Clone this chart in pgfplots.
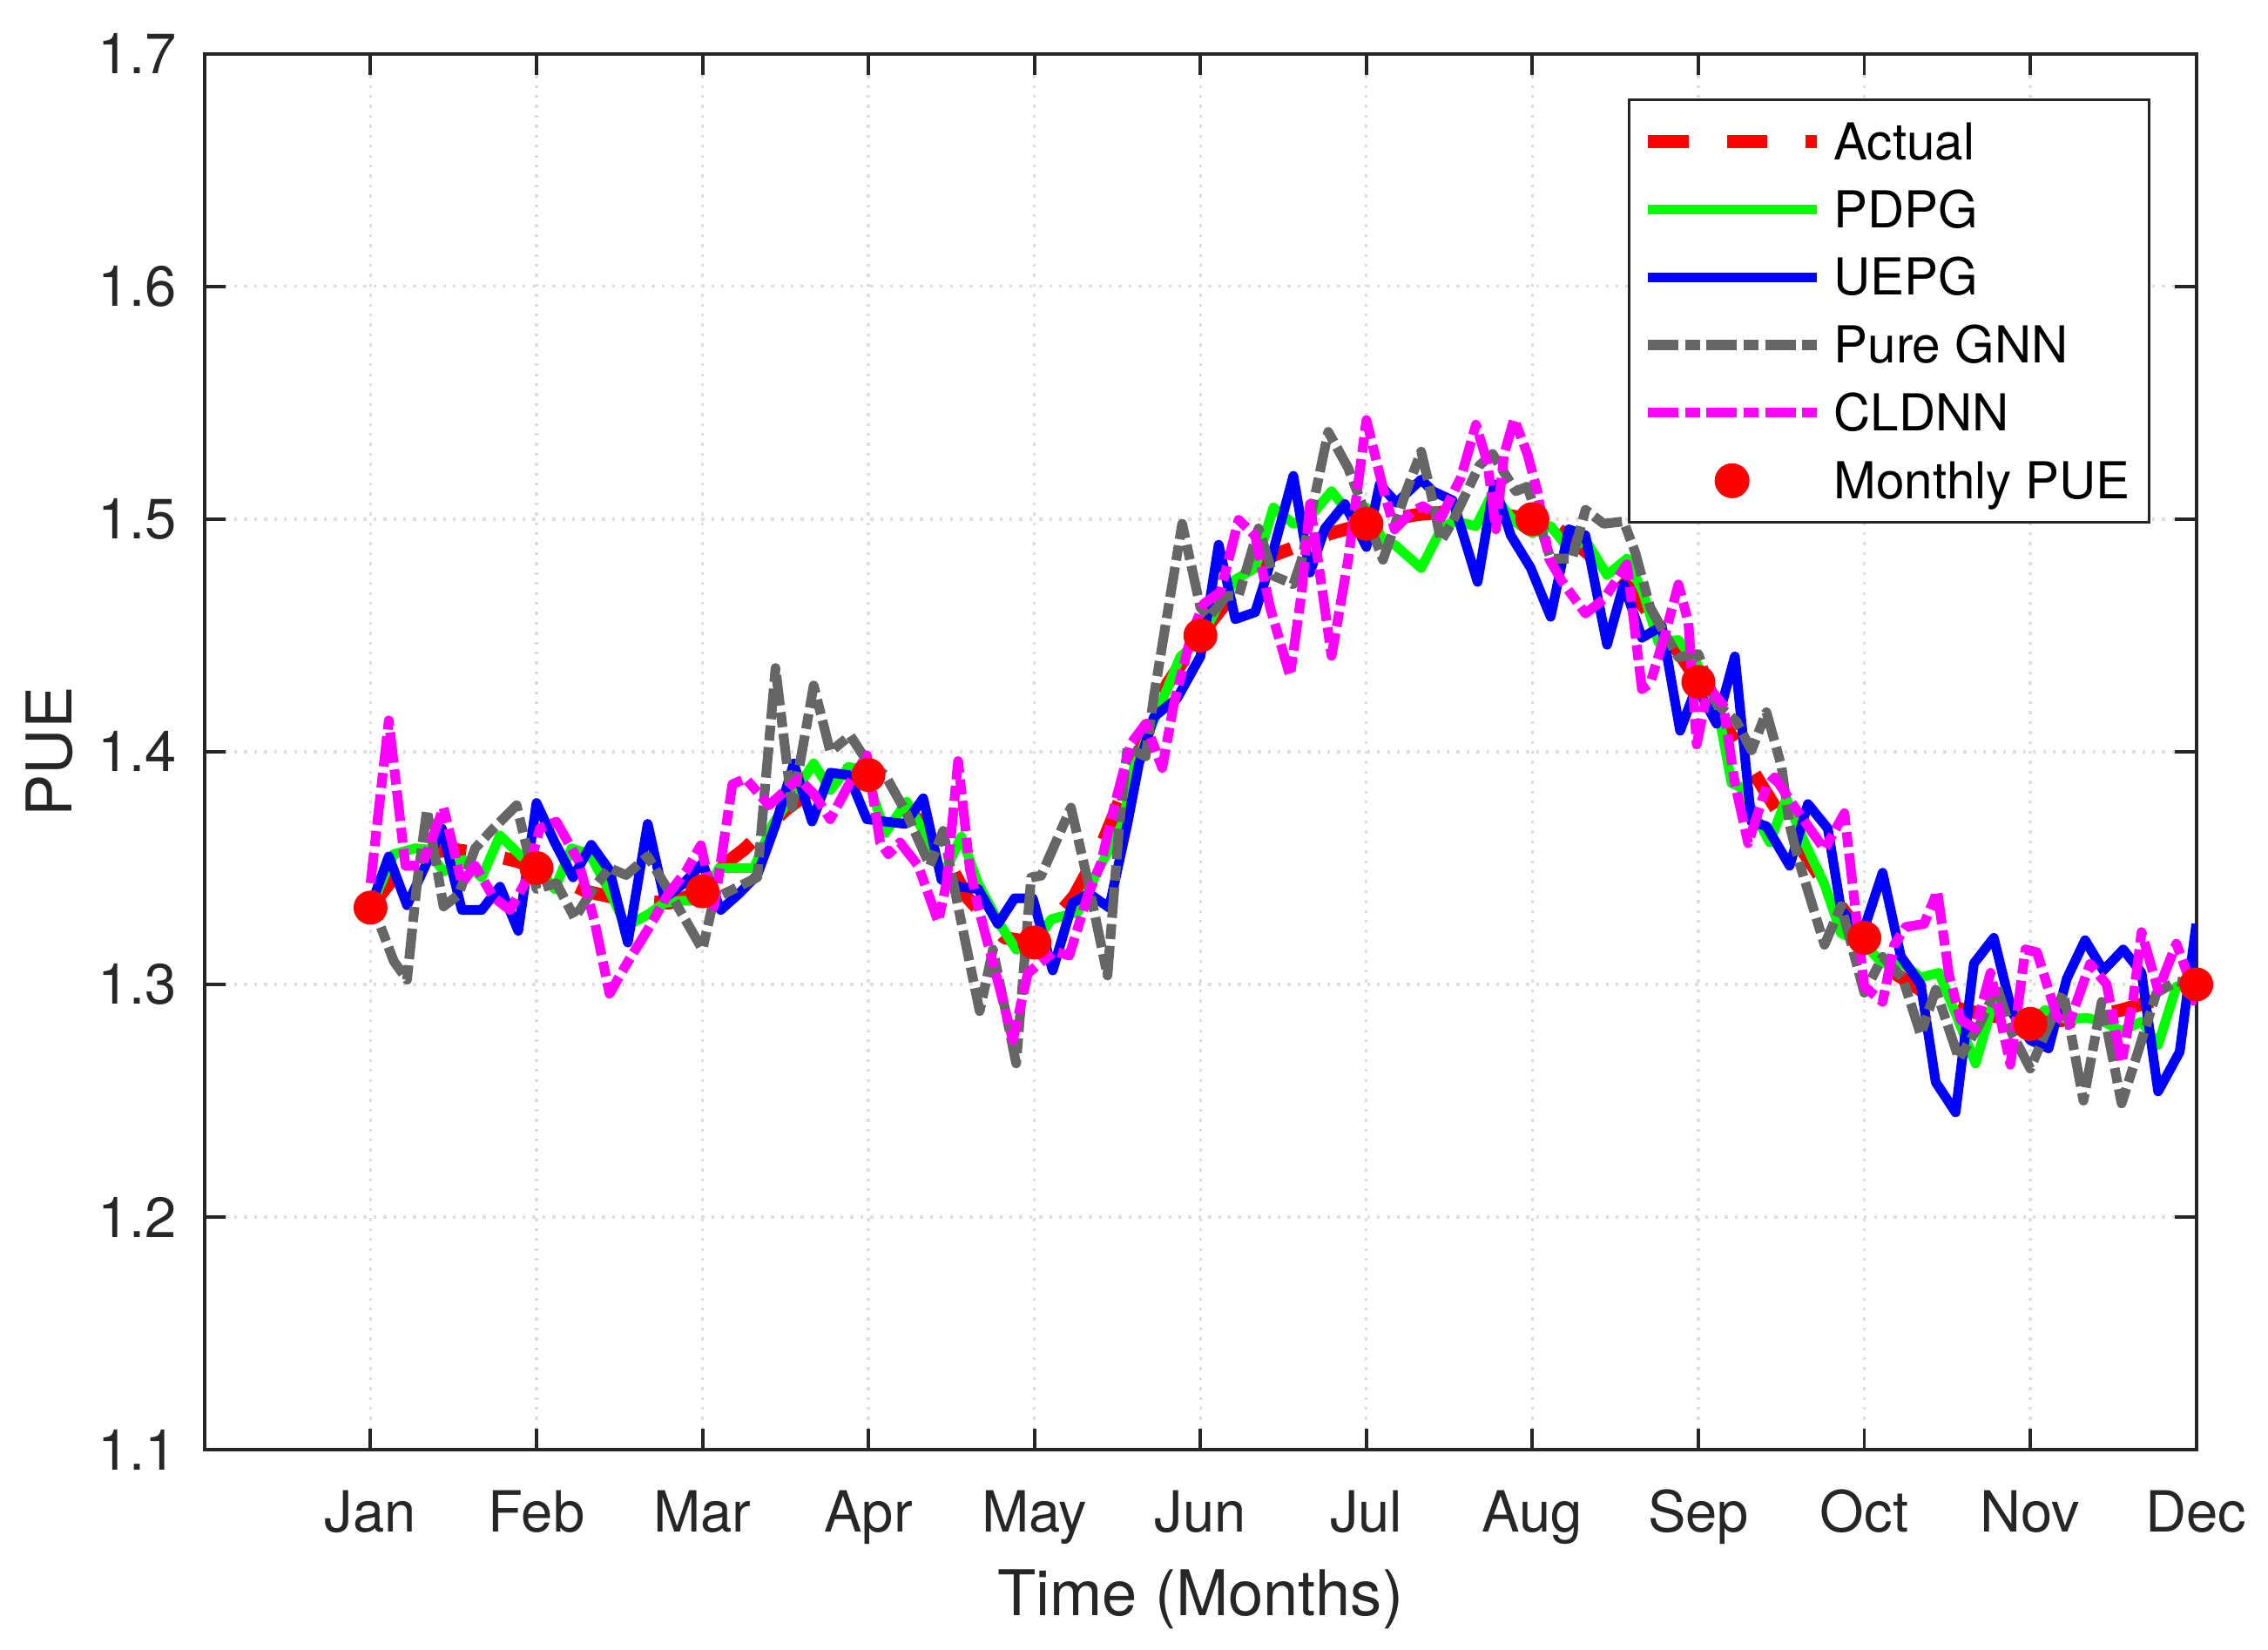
\documentclass[border=0pt]{standalone}
\usepackage{fontspec}
\setmainfont{TeX Gyre Heros}
\usepackage{pgfplots}
\pgfplotsset{compat=1.18}
\definecolor{axc}{rgb}{0.15,0.15,0.15}
\definecolor{gnn}{rgb}{0.4,0.4,0.4}
\definecolor{grd}{rgb}{0.87,0.87,0.87}
\definecolor{mag}{rgb}{1,0,1}
\definecolor{grn}{rgb}{0,1,0}
\definecolor{blu}{rgb}{0,0,1}
\definecolor{rd}{rgb}{1,0,0}
\begin{document}
\begin{tikzpicture}
\begin{axis}[
  scale only axis, width=410.9pt, height=287.9pt,
  xmin=0, xmax=12, ymin=1.1, ymax=1.7,
  xtick={1,2,3,4,5,6,7,8,9,10,11,12},
  xticklabels={Jan,Feb,Mar,Apr,May,Jun,Jul,Aug,Sep,Oct,Nov,Dec},
  ytick={1.1,1.2,1.3,1.4,1.5,1.6,1.7},
  yticklabels={1.1,1.2,1.3,1.4,1.5,1.6,1.7},
  tick pos=both, tick align=inside, major tick length=4.4pt,
  tick style={axc, line width=0.7pt},
  axis line style={axc, line width=0.7pt},
  grid=major,
  major grid style={grd, line width=0.6pt, dash pattern=on 0.6pt off 1.45pt},
  tick label style={font=\fontsize{11.7}{14}\selectfont, text=axc, inner sep=0pt},
  xticklabel style={anchor=base, yshift=-16.9pt},
  yticklabel style={anchor=east, xshift=-5.5pt},
  xlabel={Time (Months)}, ylabel={PUE},
  label style={font=\fontsize{13}{15}\selectfont, text=axc, inner sep=0pt},
  xlabel style={at={(axis description cs:0.5,0)}, anchor=base, yshift=-34.3pt},
  ylabel style={at={(axis description cs:0,0.5)}, anchor=base, yshift=27.3pt},
  legend cell align=left,
  legend style={at={(1,1)}, anchor=north east, xshift=-9.4pt, yshift=-9.2pt,
    draw=axc, line width=0.6pt, fill=white, inner xsep=3.9pt, inner ysep=4.8pt,
    font=\fontsize{10.5}{12}\selectfont,
    nodes={inner sep=0pt, text height=7.5pt, text depth=0pt},
    row sep=6.5pt, column sep=3.6pt},
  legend image code/.code={\draw[#1,overlay] (0pt,0pt) -- (34.8pt,0pt);
    \path[draw=none,fill=none] (0pt,0pt) -- (34.8pt,0pt);},
  every axis plot/.append style={line join=round},
]
% Actual
\addplot[rd, line width=2.7pt, dash pattern=on 8.4pt off 7.9pt, mark=none] coordinates {
(1.00,1.333) (1.13,1.345) (1.30,1.356) (1.50,1.358) (1.70,1.356) (1.88,1.353) (2.00,1.350)
(2.30,1.340) (2.55,1.336) (2.80,1.335) (3.00,1.340) (3.14,1.352) (3.25,1.358) (3.50,1.375)
(3.82,1.392) (4.00,1.390) (4.31,1.370) (4.50,1.350) (4.60,1.337) (4.82,1.320) (5.00,1.318)
(5.24,1.338) (5.40,1.359) (5.80,1.429) (6.00,1.450) (6.35,1.482) (6.79,1.494) (7.00,1.498)
(7.31,1.502) (7.62,1.504) (8.00,1.500) (8.15,1.496) (8.46,1.478) (8.59,1.470) (8.87,1.444)
(9.00,1.430) (9.30,1.395) (9.55,1.366) (9.79,1.340) (10.00,1.320) (10.20,1.304) (10.46,1.292)
(10.60,1.289) (11.00,1.283) (11.37,1.286) (11.55,1.289) (11.84,1.295) (12.00,1.300)
};
\addlegendentry{Actual}
% PDPG
\addplot[grn, line width=2pt, mark=none] coordinates {
(1.00,1.333) (1.14,1.356) (1.27,1.3585) (1.34,1.358) (1.44,1.3485) (1.56,1.3535) (1.67,1.346)
(1.78,1.364) (1.91,1.355) (2.00,1.351) (2.11,1.341) (2.21,1.3585) (2.32,1.356) (2.44,1.340)
(2.54,1.325) (2.67,1.330) (2.77,1.335) (2.88,1.336) (3.00,1.336) (3.10,1.350) (3.31,1.350)
(3.42,1.3685) (3.54,1.381) (3.67,1.395) (3.77,1.3835) (3.88,1.3935) (3.98,1.392) (4.10,1.365)
(4.23,1.3785) (4.35,1.3635) (4.45,1.347) (4.56,1.3635) (4.66,1.3435) (4.79,1.326) (4.89,1.315)
(4.99,1.316) (5.10,1.328) (5.26,1.331) (5.38,1.3485) (5.53,1.369) (5.60,1.393) (5.70,1.410)
(5.88,1.441) (6.00,1.448) (6.10,1.462) (6.21,1.474) (6.33,1.479) (6.44,1.505) (6.56,1.498)
(6.66,1.501) (6.79,1.512) (6.89,1.503) (7.00,1.505) (7.10,1.491) (7.17,1.489) (7.33,1.479)
(7.46,1.497) (7.54,1.499) (7.66,1.497) (7.76,1.511) (7.89,1.499) (8.00,1.494) (8.11,1.497)
(8.22,1.487) (8.32,1.491) (8.45,1.476) (8.57,1.483) (8.67,1.468) (8.76,1.447) (8.88,1.448)
(8.99,1.438) (9.11,1.421) (9.20,1.3865) (9.25,1.385) (9.43,1.361) (9.53,1.380) (9.64,1.361)
(9.76,1.343) (9.86,1.322) (9.99,1.318) (10.11,1.309) (10.23,1.309) (10.34,1.303) (10.45,1.305)
(10.55,1.2875) (10.67,1.266) (10.78,1.293) (10.90,1.289) (11.00,1.284) (11.09,1.289) (11.22,1.285)
(11.34,1.2856) (11.44,1.284) (11.55,1.280) (11.67,1.284) (11.77,1.274) (11.88,1.299) (12.00,1.301)
};
\addlegendentry{PDPG}
% UEPG
\addplot[blu, line width=2pt, mark=none] coordinates {
(1.00,1.3335) (1.11,1.355) (1.22,1.334) (1.33,1.351) (1.43,1.367) (1.55,1.332) (1.67,1.332)
(1.78,1.342) (1.89,1.323) (2.00,1.378) (2.11,1.361) (2.22,1.346) (2.33,1.360) (2.44,1.349)
(2.55,1.318) (2.67,1.369) (2.77,1.337) (2.88,1.343) (3.00,1.352) (3.11,1.332) (3.22,1.339)
(3.33,1.347) (3.44,1.3685) (3.55,1.395) (3.66,1.370) (3.77,1.391) (3.88,1.390) (3.99,1.371)
(4.10,1.370) (4.22,1.369) (4.33,1.380) (4.44,1.345) (4.55,1.342) (4.66,1.341) (4.78,1.326)
(4.88,1.337) (4.99,1.337) (5.11,1.306) (5.23,1.335) (5.33,1.339) (5.45,1.333) (5.56,1.369)
(5.63,1.395) (5.72,1.415) (5.86,1.423) (6.00,1.441) (6.05,1.462) (6.11,1.489) (6.21,1.457)
(6.33,1.460) (6.40,1.476) (6.56,1.5186) (6.66,1.477) (6.75,1.496) (6.87,1.5065) (7.00,1.488)
(7.08,1.515) (7.18,1.507) (7.33,1.517) (7.40,1.512) (7.52,1.508) (7.67,1.473) (7.77,1.515)
(7.87,1.493) (7.99,1.479) (8.11,1.458) (8.22,1.4956) (8.32,1.493) (8.45,1.446) (8.55,1.472)
(8.66,1.449) (8.78,1.454) (8.89,1.409) (8.99,1.428) (9.11,1.412) (9.22,1.441) (9.32,1.370)
(9.41,1.368) (9.55,1.351) (9.66,1.3775) (9.78,1.367) (9.86,1.332) (9.99,1.322) (10.11,1.348)
(10.22,1.312) (10.34,1.300) (10.43,1.258) (10.55,1.245) (10.66,1.309) (10.78,1.320) (10.89,1.288)
(11.00,1.276) (11.11,1.2725) (11.22,1.3025) (11.33,1.319) (11.44,1.306) (11.56,1.315) (11.67,1.305)
(11.77,1.254) (11.90,1.271) (12.00,1.326)
};
\addlegendentry{UEPG}
% Pure GNN
\addplot[gnn, line width=2pt, dash pattern=on 6.3pt off 1.4pt on 3.1pt off 1.3pt, mark=none] coordinates {
(1.00,1.340) (1.06,1.325) (1.14,1.310) (1.22,1.302) (1.28,1.3435) (1.34,1.375) (1.44,1.3335)
(1.53,1.3385) (1.63,1.3585) (1.74,1.367) (1.88,1.377) (2.00,1.341) (2.12,1.3435) (2.23,1.3285)
(2.35,1.342) (2.44,1.350) (2.54,1.347) (2.67,1.355) (2.79,1.341) (3.00,1.315) (3.07,1.337)
(3.16,1.340) (3.33,1.346) (3.44,1.436) (3.54,1.376) (3.67,1.4285) (3.77,1.400) (3.89,1.407)
(3.99,1.396) (4.10,1.390) (4.23,1.3735) (4.37,1.351) (4.45,1.366) (4.54,1.3335) (4.67,1.2885)
(4.75,1.315) (4.89,1.266) (4.98,1.346) (5.04,1.3467) (5.22,1.376) (5.32,1.345) (5.44,1.3038)
(5.51,1.3673) (5.56,1.4017) (5.67,1.398) (5.72,1.424) (5.89,1.498) (6.00,1.462) (6.05,1.458)
(6.16,1.467) (6.23,1.467) (6.35,1.496) (6.44,1.4756) (6.56,1.472) (6.61,1.4825) (6.77,1.5375)
(6.89,1.522) (7.00,1.5014) (7.10,1.4825) (7.24,1.512) (7.33,1.529) (7.38,1.514) (7.45,1.4906)
(7.52,1.499) (7.68,1.523) (7.76,1.528) (7.90,1.512) (7.97,1.514) (8.11,1.483) (8.24,1.483)
(8.32,1.504) (8.43,1.498) (8.55,1.499) (8.62,1.4856) (8.71,1.462) (8.78,1.453) (8.88,1.4406)
(9.00,1.442) (9.11,1.4206) (9.23,1.413) (9.32,1.4006) (9.41,1.417) (9.50,1.394) (9.55,1.3685)
(9.60,1.3543) (9.76,1.317) (9.86,1.3337) (10.00,1.2964) (10.11,1.3118) (10.23,1.3028) (10.34,1.2784)
(10.43,1.2977) (10.57,1.268) (10.69,1.2822) (10.80,1.2988) (10.89,1.2788) (11.00,1.2638) (11.09,1.2788)
(11.20,1.2963) (11.32,1.250) (11.43,1.2925) (11.55,1.2488) (11.65,1.2713) (11.76,1.2963) (11.88,1.3013)
(12.00,1.300)
};
\addlegendentry{Pure GNN}
% CLDNN
\addplot[mag, line width=2pt, dash pattern=on 6.3pt off 1.4pt on 3.1pt off 1.3pt, mark=none] coordinates {
(1.00,1.3435) (1.11,1.4135) (1.21,1.351) (1.31,1.351) (1.44,1.376) (1.55,1.3435) (1.63,1.351)
(1.74,1.3375) (1.84,1.332) (1.93,1.3435) (2.02,1.367) (2.12,1.370) (2.25,1.3535) (2.35,1.327)
(2.44,1.296) (2.54,1.3085) (2.67,1.3235) (2.79,1.3385) (2.90,1.3485) (2.99,1.3598) (3.07,1.3335)
(3.18,1.386) (3.26,1.3885) (3.40,1.377) (3.58,1.3885) (3.67,1.382) (3.77,1.371) (3.89,1.387)
(3.99,1.3985) (4.07,1.361) (4.12,1.356) (4.19,1.361) (4.30,1.351) (4.42,1.327) (4.47,1.3435)
(4.54,1.396) (4.61,1.350) (4.66,1.3335) (4.79,1.2985) (4.87,1.276) (4.96,1.3048) (5.12,1.3142)
(5.21,1.3124) (5.32,1.338) (5.40,1.352) (5.49,1.379) (5.58,1.4034) (5.67,1.412) (5.77,1.393)
(5.84,1.4206) (5.95,1.4515) (6.02,1.4636) (6.12,1.4687) (6.23,1.4997) (6.33,1.4928) (6.42,1.4619)
(6.54,1.4326) (6.61,1.4687) (6.66,1.5065) (6.79,1.4412) (6.89,1.4825) (7.00,1.5426) (7.10,1.5134)
(7.17,1.4956) (7.27,1.503) (7.34,1.5056) (7.45,1.5006) (7.57,1.518) (7.66,1.5406) (7.73,1.524)
(7.78,1.4956) (7.83,1.528) (7.89,1.543) (7.97,1.528) (8.03,1.512) (8.10,1.483) (8.18,1.4731)
(8.32,1.4594) (8.43,1.4656) (8.57,1.4806) (8.66,1.4269) (8.71,1.4294) (8.80,1.4506) (8.88,1.4719)
(8.94,1.4556) (8.99,1.4031) (9.06,1.4281) (9.15,1.420) (9.22,1.3865) (9.30,1.3607) (9.41,1.385)
(9.46,1.389) (9.58,1.3762) (9.76,1.358) (9.88,1.3736) (9.95,1.3299) (10.00,1.299) (10.11,1.2925)
(10.18,1.317) (10.25,1.3247) (10.36,1.326) (10.44,1.340) (10.51,1.3041) (10.58,1.2848) (10.67,1.281)
(10.76,1.305) (10.88,1.2655) (10.97,1.315) (11.04,1.3138) (11.16,1.2863) (11.23,1.2825) (11.36,1.3088)
(11.46,1.300) (11.55,1.2663) (11.62,1.2938) (11.67,1.3225) (11.77,1.2975) (11.88,1.3175) (11.95,1.3038)
(12.00,1.2913)
};
\addlegendentry{CLDNN}
% Monthly PUE
\addplot[only marks, mark=*, mark size=3.3pt, color=rd, mark options={fill=rd, draw=rd, solid},
  legend image code/.code={\fill[rd,overlay] (17.4pt,0pt) circle (3.3pt); \path[draw=none,fill=none] (0pt,0pt) -- (34.8pt,0pt);}] coordinates {
(1,1.333) (2,1.350) (3,1.340) (4,1.390) (5,1.318) (6,1.450)
(7,1.498) (8,1.500) (9,1.430) (10,1.320) (11,1.283) (12,1.300)
};
\addlegendentry{Monthly PUE}
\coordinate (bl) at (rel axis cs:0,0);
\coordinate (tr) at (rel axis cs:1,1);
\end{axis}
\pgfresetboundingbox
\path[use as bounding box] ([shift={(-42.2pt,-41.3pt)}]bl) rectangle ([shift={(14.8pt,11.1pt)}]tr);
\end{tikzpicture}
\end{document}
